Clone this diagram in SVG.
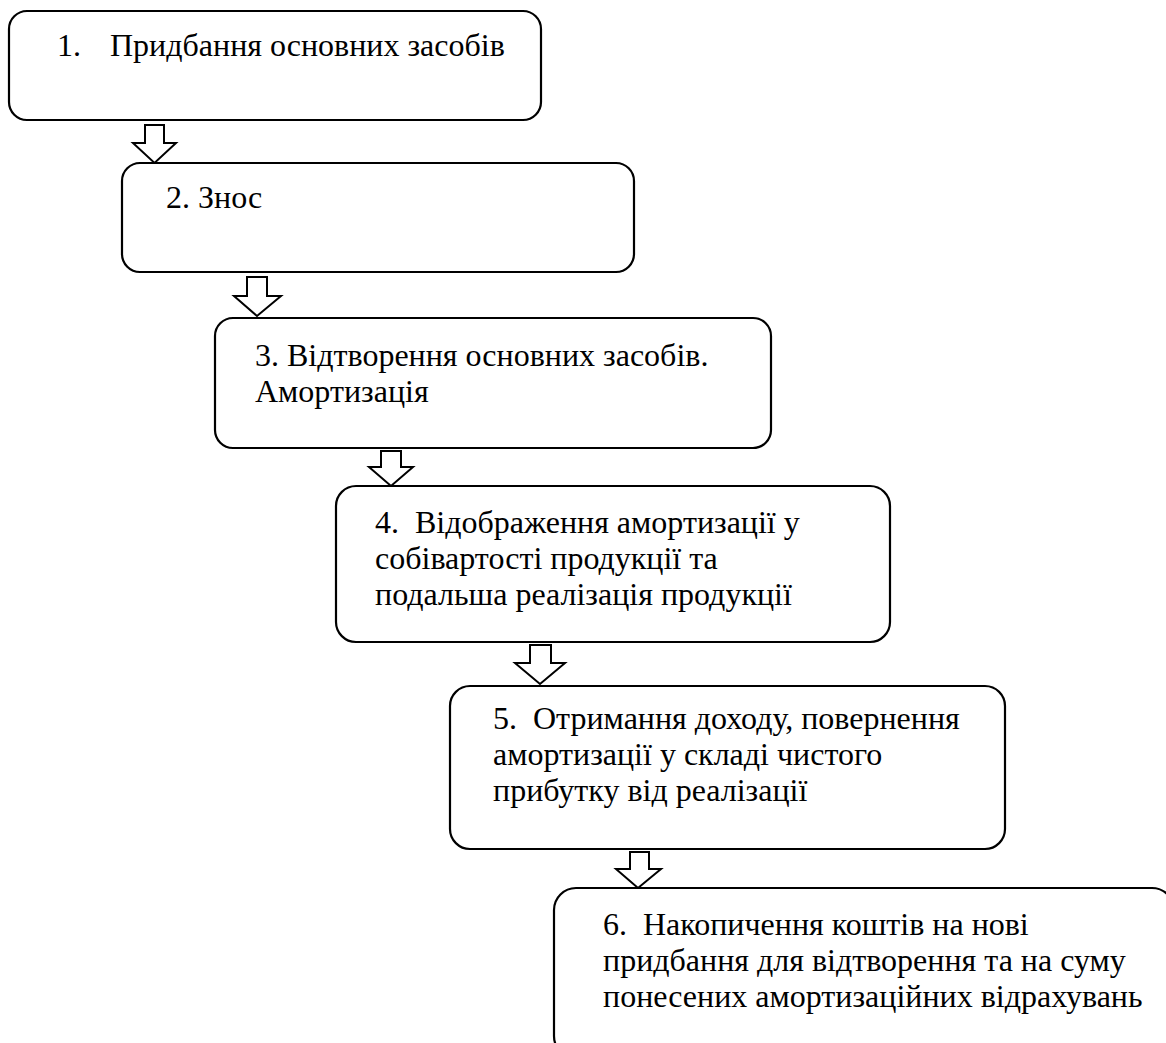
<svg xmlns="http://www.w3.org/2000/svg" width="1166" height="1043" viewBox="0 0 1166 1043">
<rect width="1166" height="1043" fill="#fff"/>
<g id="connectors" fill="#fff" stroke="#000" stroke-width="2">
<polygon points="145,125 164,125 164,143 176,143 154.5,163 133,143 145,143"/>
<polygon points="247,277 267,277 267,296 281,296 257,316 234,296 247,296"/>
<polygon points="381,451 401,451 401,467 413,467 391,486 369,467 381,467"/>
<polygon points="530,645 551,645 551,663 565,663 540,684 515,663 530,663"/>
<polygon points="630,852 649,852 649,869 661,869 638,888 616,869 630,869"/>
</g>
<g id="node1"><rect x="9" y="11" width="532" height="109" rx="18" fill="#fff" stroke="#000" stroke-width="2.2"/>
<text x="57" y="56" font-family="Liberation Serif" font-size="32" style="font-family:'Liberation Serif',serif !important;font-size:32px">1.</text><text x="110" y="56" font-family="Liberation Serif" font-size="32" style="font-family:'Liberation Serif',serif !important;font-size:32px">Придбання основних засобів</text></g>
<g id="node2"><rect x="122" y="163" width="512" height="109" rx="18" fill="#fff" stroke="#000" stroke-width="2.2"/>
<text x="166" y="208" font-family="Liberation Serif" font-size="32" style="font-family:'Liberation Serif',serif !important;font-size:32px">2. Знос</text></g>
<g id="node3"><rect x="215" y="318" width="556" height="130" rx="18" fill="#fff" stroke="#000" stroke-width="2.2"/>
<text x="255" y="366" font-family="Liberation Serif" font-size="32" style="font-family:'Liberation Serif',serif !important;font-size:32px">3. Відтворення основних засобів.</text><text x="255" y="402" font-family="Liberation Serif" font-size="32" style="font-family:'Liberation Serif',serif !important;font-size:32px">Амортизація</text></g>
<g id="node4"><rect x="336" y="486" width="554" height="156" rx="20" fill="#fff" stroke="#000" stroke-width="2.2"/>
<text x="375" y="533" font-family="Liberation Serif" font-size="32" style="font-family:'Liberation Serif',serif !important;font-size:32px;white-space:pre">4.  Відображення амортизації у</text><text x="375" y="569" font-family="Liberation Serif" font-size="32" style="font-family:'Liberation Serif',serif !important;font-size:32px">собівартості продукції та</text><text x="375" y="605" font-family="Liberation Serif" font-size="32" style="font-family:'Liberation Serif',serif !important;font-size:32px">подальша реалізація продукції</text></g>
<g id="node5"><rect x="450" y="686" width="555" height="163" rx="20" fill="#fff" stroke="#000" stroke-width="2.2"/>
<text x="493" y="729" font-family="Liberation Serif" font-size="32" style="font-family:'Liberation Serif',serif !important;font-size:32px;white-space:pre">5.  Отримання доходу, повернення</text><text x="493" y="765" font-family="Liberation Serif" font-size="32" style="font-family:'Liberation Serif',serif !important;font-size:32px">амортизації у складі чистого</text><text x="493" y="801" font-family="Liberation Serif" font-size="32" style="font-family:'Liberation Serif',serif !important;font-size:32px">прибутку від реалізації</text></g>
<g id="node6"><rect x="554" y="888" width="620" height="170" rx="22" fill="#fff" stroke="#000" stroke-width="2.2"/>
<text x="603" y="935" font-family="Liberation Serif" font-size="32" style="font-family:'Liberation Serif',serif !important;font-size:32px;white-space:pre">6.  Накопичення коштів на нові</text><text x="603" y="971" font-family="Liberation Serif" font-size="32" style="font-family:'Liberation Serif',serif !important;font-size:32px">придбання для відтворення та на суму</text><text x="603" y="1007" font-family="Liberation Serif" font-size="32" style="font-family:'Liberation Serif',serif !important;font-size:32px">понесених амортизаційних відрахувань</text></g>
</svg>
